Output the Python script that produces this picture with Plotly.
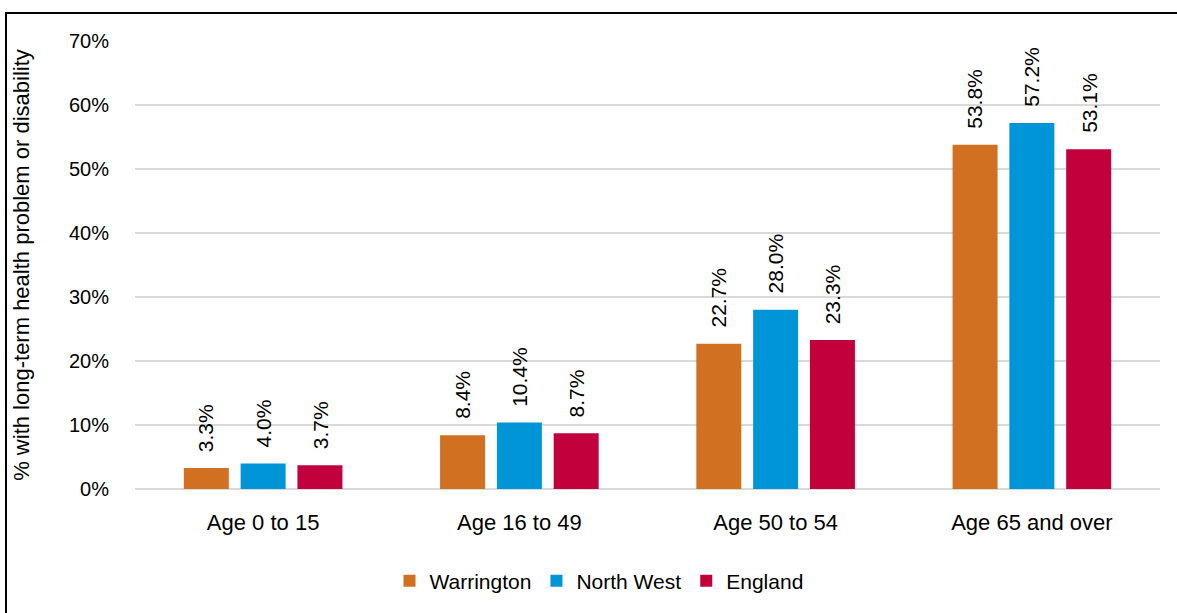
import plotly.graph_objects as go

categories = ["Age 0 to 15", "Age 16 to 49", "Age 50 to 54", "Age 65 and over"]
warrington = [3.3, 8.4, 22.7, 53.8]
north_west = [4.0, 10.4, 28.0, 57.2]
england = [3.7, 8.7, 23.3, 53.1]
series_names = ["Warrington", "North West", "England"]
colors = ["#D07020", "#0095D6", "#C2003C"]
y_ticks = [0, 10, 20, 30, 40, 50, 60, 70]
y_title = "% with long-term health problem or disability"

FONT = "Liberation Sans, Arial, sans-serif"
FS = 20

L, R, T, B = 135, 17, 41, 124
W, H = 1177, 613
pw = W - L - R
ph = H - T - B
BARGAP = 0.335
GROUPGAP = 0.208

def px(x):
    return (x - L) / pw

def py(y):
    return (H - B - y) / ph

series = [warrington, north_west, england]

fig = go.Figure()
for name, vals, col in zip(series_names, series, colors):
    fig.add_trace(go.Bar(
        x=categories, y=vals, name=name,
        marker=dict(color=col, line=dict(width=0)),
    ))

# data labels (rotated, offset above the bars like the original)
pitch = pw / len(categories) * (1 - BARGAP) / len(series)
annotations = []
for i, vals in enumerate(series):
    for cat, v in zip(categories, vals):
        annotations.append(dict(
            x=cat, y=v, xref="x", yref="y", text=f"{v:.1f}%",
            showarrow=False, textangle=-90,
            xanchor="center", yanchor="bottom",
            xshift=(i - (len(series) - 1) / 2) * pitch, yshift=14,
            font=dict(family=FONT, size=21, color="#000000"),
        ))

fig.update_layout(
    width=W, height=H,
    margin=dict(l=L, r=R, t=T, b=B, pad=0),
    paper_bgcolor="white", plot_bgcolor="white",
    font=dict(family=FONT, size=FS, color="#000000"),
    barmode="group", bargap=BARGAP, bargroupgap=GROUPGAP,
    showlegend=True,
    legend=dict(orientation="h", x=px(599), xanchor="center", y=py(581), yanchor="middle",
                font=dict(family=FONT, size=21), traceorder="normal",
                itemwidth=30, tracegroupgap=0),
    xaxis=dict(showgrid=False, showline=False, ticks="", ticklabelstandoff=18,
               tickfont=dict(size=22)),
    yaxis=dict(range=[0, 70], tickvals=y_ticks, ticktext=[f"{v}%" for v in y_ticks],
               showgrid=True, gridcolor="#D9D9D9", gridwidth=2,
               zeroline=True, zerolinecolor="#D9D9D9", zerolinewidth=2,
               showline=False, ticks="", ticklabelstandoff=25,
               tickfont=dict(size=FS),
               title=dict(text=y_title, font=dict(size=22), standoff=33)),
    annotations=annotations,
    shapes=[
        dict(type="line", xref="paper", yref="paper", x0=px(6), x1=px(6), y0=py(13), y1=py(H + 5),
             line=dict(color="black", width=2)),
        dict(type="line", xref="paper", yref="paper", x0=px(5), x1=px(W + 5), y0=py(13), y1=py(13),
             line=dict(color="black", width=2)),
    ],
)

fig.write_html("out.html")
